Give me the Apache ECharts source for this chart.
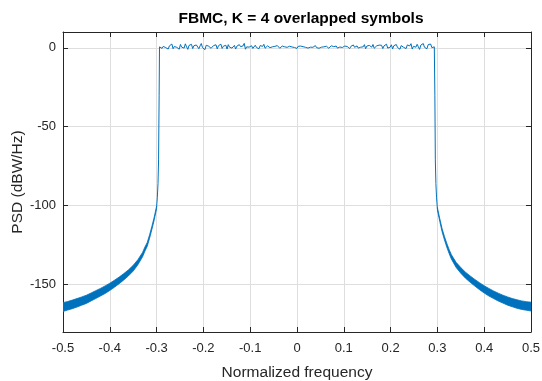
<!DOCTYPE html>
<html>
<head>
<meta charset="utf-8">
<script src="https://cdn.jsdelivr.net/npm/echarts@6/dist/echarts.min.js"></script>
<style>
  html, body { margin: 0; padding: 0; background: #fff; }
  #chart { width: 542px; height: 381px; }
</style>
</head>
<body>
<div id="chart"></div>
<script>
const LINE_COLOR = "#0072bd";
const AXIS_COLOR = "#262626";
const GRID_COLOR = "#dedede";
const FONT = "Liberation Sans, Arial, sans-serif";

const yTicks = [-150, -100, -50, 0];

// in-band PSD (dB), evenly sampled between the two band edges
const bandStart = -0.2936;
const bandEnd = 0.2934;
const bandDb = [
  0.6, 1.4, -0.4, 0.9, 2.0, 0.1, 1.1, -0.8, 1.2, 0.4, 2.4, -0.6, 0.8, 1.7, 0.3,
  1.4, -0.9, 2.1, 0.4, 1.2, -0.2, 2.5, 0.6, -1.0, 1.5, 0.7, 2.2, -0.5, 1.3, 0.3,
  1.8, 0.9, -0.6, 1.2, 2.7, 0.1, 0.8, -1.2, 1.6, 0.6, 1.0, 2.1, -0.3, 0.9, 1.4,
  0.2, 1.9, -0.7, 1.3, 0.5, 2.3, -0.4, 1.0, 0.6, 1.6, -0.8, 2.0, 0.4, 1.1, -0.2,
  0.4, 1.5, -0.8, 1.0, 0.3, 2.0, 0.7, -0.2, 1.2, 2.8, -0.9, 0.6, 1.7, 0.4, 0.9,
  1.3, -0.4, 0.8, 1.6, 0.2, 1.0, -0.6, 1.4, 0.5, 0.9, 2.2, -0.3, 0.7, 1.2, 0.3,
  0.1, 1.2, 0.6, -0.5, 0.9, 0.3, 1.4, 0.4, -0.3, 0.8, 1.1, 0.1, 0.6, 1.2, 0.3,
  0.7, 1.0, -0.1, 0.5, 1.3, 0.2, 0.8, -0.4, 0.9, 0.4, 1.1, 0.0, 0.7, 1.2, 0.3,
  0.8, -0.2, 0.9, 0.4, 1.1, 0.3, 0.6, 1.4, 0.1, 0.9, -0.3, 0.8, 0.4, 1.2, 0.6,
  0.2, 1.0, 0.5, -0.3, 0.8, 1.3, 0.1, 0.7, 0.4, 1.1, -0.2, 0.9, 0.5, 1.4, 0.2,
  0.3, 1.1, 0.1, 0.8, 1.4, -0.5, 0.9, 0.6, 1.8, 0.3, 0.8, 1.2, -0.2, 0.9, 0.4,
  1.4, 0.6, 2.0, -0.6, 1.1, 0.3, 1.5, 0.8, 0.4, 2.1, -0.3, 0.9, 1.2, 0.1, 1.7,
  0.5, 1.6, -0.5, 1.2, 0.7, 2.3, -0.2, 1.0, 0.4, 1.9, -0.7, 1.3, 0.6, 2.1, 0.2,
  0.6, -0.9, 1.4, 2.4, 0.3, 1.1, -0.5, 1.8, 0.8, 1.2, 2.6, -0.8, 0.9, 1.5, 0.4,
  2.2, 0.6, -1.0, 1.7, 0.9, 2.7, 0.3, 1.4, -0.6, 2.0, 0.8, 2.4, 0.1, 1.2, 0.6
];

// the steep drop at each band edge
const leftEdgeFreq = [-0.3, -0.2985, -0.297, -0.2958, -0.2946, -0.2938];
const leftEdgeDb = [-101, -95, -86, -71, -30, 0.6];
const rightEdgeFreq = [0.2938, 0.2946, 0.2956, 0.2968, 0.2982, 0.3];
const rightEdgeDb = [0.5, -30, -71, -86, -95, -102];

// out-of-band tails: |f| and the upper / lower edge of the noisy trace
const tailOffset = [0.300, 0.305, 0.310, 0.315, 0.320, 0.325, 0.330, 0.340, 0.350, 0.360, 0.370, 0.380,
  0.390, 0.400, 0.410, 0.420, 0.430, 0.440, 0.450, 0.460, 0.470, 0.480, 0.490, 0.500];
const leftTailHigh = [-100.2, -107.1, -113.0, -118.4, -123.3, -126.2, -129.6, -134.2, -137.8, -140.6, -143.0, -145.2,
  -147.2, -149.1, -150.8, -152.4, -153.8, -155.3, -156.7, -157.8, -158.8, -159.8, -160.7, -161.4];
const leftTailLow = [-101.8, -108.9, -115.0, -120.6, -125.7, -128.8, -132.4, -137.4, -141.4, -144.4, -147.0, -149.4,
  -151.6, -153.7, -155.6, -157.2, -158.8, -160.3, -161.9, -163.0, -164.2, -165.2, -166.1, -167.0];
const rightTailHigh = [-101.2, -108.1, -114.5, -119.4, -123.8, -127.7, -131.1, -135.9, -139.2, -142.1, -144.5, -146.7,
  -148.8, -150.7, -152.4, -154.0, -155.4, -156.7, -157.8, -158.8, -159.6, -160.3, -160.8, -161.1];
const rightTailLow = [-102.8, -109.9, -116.5, -121.6, -126.2, -130.3, -133.9, -139.1, -142.8, -145.9, -148.5, -150.9,
  -153.2, -155.3, -157.2, -158.8, -160.4, -161.7, -163.0, -164.0, -165.0, -165.7, -166.2, -166.7];

// main trace: left edge, flat band, right edge
const bandStep = (bandEnd - bandStart) / (bandDb.length - 1);
const mainLine = [];
leftEdgeFreq.forEach((f, i) => mainLine.push([f, leftEdgeDb[i]]));
bandDb.forEach((v, i) => mainLine.push([bandStart + i * bandStep, v]));
rightEdgeFreq.forEach((f, i) => mainLine.push([f, rightEdgeDb[i]]));

function tailSeries(sign, high, low) {
  return {
    type: "custom",
    clip: true,
    silent: true,
    data: [[sign * 0.4, -150]],
    renderItem: (params, api) => {
      const pts = [];
      tailOffset.forEach((o, i) => pts.push(api.coord([sign * o, high[i]])));
      for (let i = tailOffset.length - 1; i >= 0; i--) {
        pts.push(api.coord([sign * tailOffset[i], low[i]]));
      }
      return {
        type: "polygon",
        shape: { points: pts },
        style: { fill: LINE_COLOR, stroke: LINE_COLOR, lineWidth: 0.8 },
      };
    },
  };
}

const fmtX = (v) => {
  const r = Math.round(v * 10) / 10;
  return r === 0 ? "0" : r.toFixed(1);
};

const chart = echarts.init(document.getElementById("chart"), null, { renderer: "canvas" });

chart.setOption({
  animation: false,
  backgroundColor: "#fff",
  textStyle: { fontFamily: FONT },
  title: {
    text: "FBMC, K = 4 overlapped symbols",
    left: 296,
    textAlign: "center",
    top: 6,
    textStyle: { fontFamily: FONT, fontSize: 15.5, fontWeight: "bold", color: "#000" },
  },
  grid: { left: 63, right: 11, top: 32, bottom: 49, containLabel: false, outerBoundsMode: "none" },
  xAxis: [
    {
      type: "value",
      min: -0.5,
      max: 0.5,
      interval: 0.1,
      name: "Normalized frequency",
      nameLocation: "middle",
      nameGap: 33,
      nameMoveOverlap: false,
      nameTextStyle: { color: AXIS_COLOR, fontSize: 15.5, fontFamily: FONT },
      axisLine: { onZero: false, lineStyle: { color: AXIS_COLOR, width: 1 } },
      axisTick: { inside: true, length: 5, lineStyle: { color: AXIS_COLOR } },
      axisLabel: { color: AXIS_COLOR, fontSize: 13, margin: 10, formatter: fmtX, fontFamily: FONT },
      splitLine: { show: true, lineStyle: { color: GRID_COLOR, width: 1 } },
    },
    {
      type: "value",
      position: "top",
      min: -0.5,
      max: 0.5,
      interval: 0.1,
      axisLine: { onZero: false, lineStyle: { color: AXIS_COLOR, width: 1 } },
      axisTick: { inside: true, length: 5, lineStyle: { color: AXIS_COLOR } },
      axisLabel: { show: false },
      splitLine: { show: false },
    },
  ],
  yAxis: [
    {
      type: "value",
      min: -180,
      max: 10,
      name: "PSD (dBW/Hz)",
      nameLocation: "middle",
      nameGap: 37,
      nameMoveOverlap: false,
      nameTextStyle: { color: AXIS_COLOR, fontSize: 15.5, fontFamily: FONT },
      axisLine: { show: true, onZero: false, lineStyle: { color: AXIS_COLOR, width: 1 } },
      axisTick: { show: true, inside: true, length: 5, customValues: yTicks, lineStyle: { color: AXIS_COLOR } },
      axisLabel: { color: AXIS_COLOR, fontSize: 13, margin: 7, customValues: yTicks, fontFamily: FONT },
      splitLine: { show: true, lineStyle: { color: GRID_COLOR, width: 1 } },
    },
    {
      type: "value",
      position: "right",
      min: -180,
      max: 10,
      axisLine: { show: true, onZero: false, lineStyle: { color: AXIS_COLOR, width: 1 } },
      axisTick: { show: true, inside: true, length: 5, customValues: yTicks, lineStyle: { color: AXIS_COLOR } },
      axisLabel: { show: false },
      splitLine: { show: false },
    },
  ],
  series: [
    tailSeries(-1, leftTailHigh, leftTailLow),
    tailSeries(1, rightTailHigh, rightTailLow),
    {
      type: "line",
      data: mainLine,
      showSymbol: false,
      symbol: "none",
      lineStyle: { color: LINE_COLOR, width: 1 },
      clip: true,
    },
  ],
});
</script>
</body>
</html>
